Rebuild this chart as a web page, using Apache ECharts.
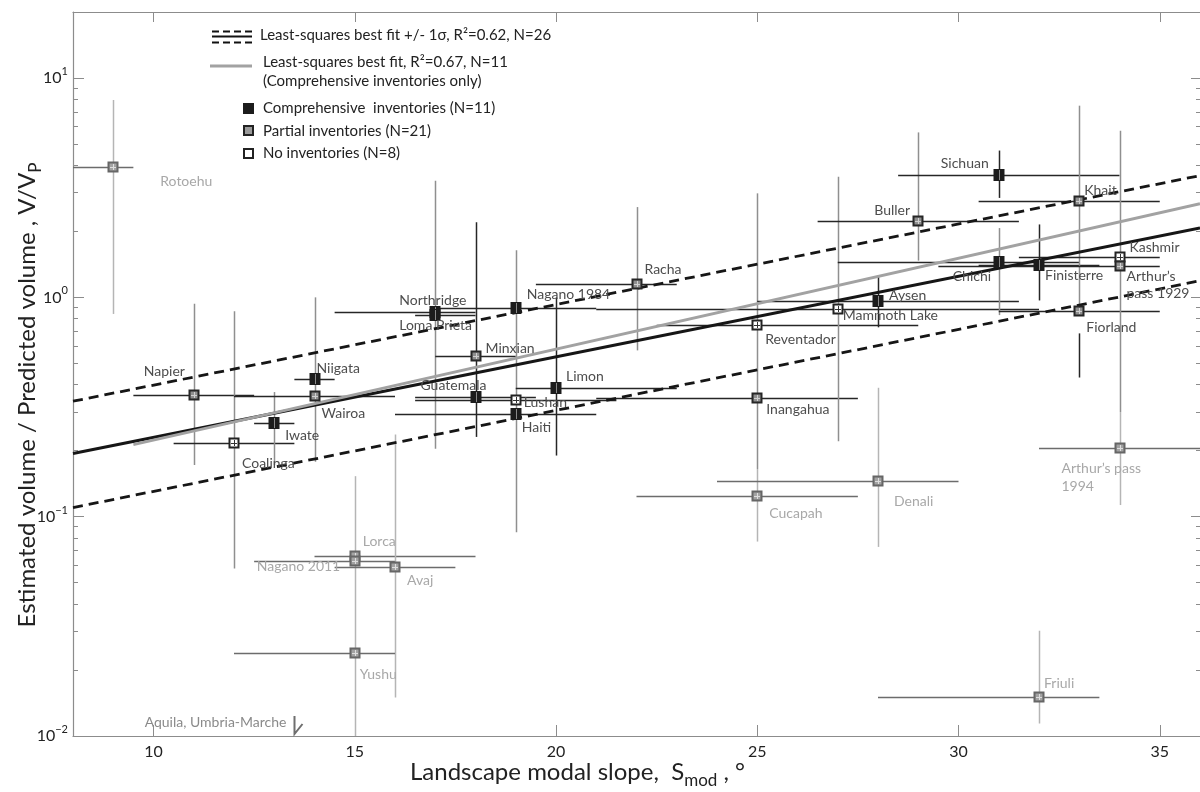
<!DOCTYPE html>
<html>
<head>
<meta charset="utf-8">
<script src="https://cdn.jsdelivr.net/npm/echarts@6/dist/echarts.min.js"></script>
<style>
html, body { margin: 0; padding: 0; background: #fff; }
#chart { width: 1200px; height: 792px; }
</style>
</head>
<body>
<div id="chart"></div>
<script>
// Earthquake-triggered landslide volume ratio versus landscape modal slope

// ---- data -------------------------------------------------------------
const names = ['Rotoehu', 'Napier', 'Coalinga', 'Iwate', 'Niigata', 'Wairoa', 'Northridge', 'Loma Prieta',
  'Guatemala', 'Minxian', 'Nagano 1984', 'Lushan', 'Haiti', 'Limon', 'Racha', 'Reventador', 'Inangahua',
  'Mammoth Lake', 'Aysen', 'Buller', 'Sichuan', 'Chichi', 'Finisterre', 'Khait', 'Fiorland', 'Kashmir',
  'Arthur\u2019s pass 1929', 'Lorca', 'Nagano 2011', 'Avaj', 'Yushu', 'Cucapah', 'Denali', 'Friuli',
  'Arthur\u2019s pass 1994'];
// landscape modal slope (degrees) and its range
const slope     = [9, 11, 12, 13, 14, 14, 17, 17, 18, 18, 19, 19, 19, 20, 22, 25, 25, 27, 28, 29, 31, 31, 32, 33, 33, 34, 34, 15, 15, 16, 15, 25, 28, 32, 34];
const slopeLow  = [7.5, 9.5, 10.5, 12.5, 13.5, 12, 14.5, 16.5, 16.5, 17, 17, 16.5, 16, 19, 19.5, 22.5, 21, 21, 25, 26.5, 28.5, 27, 30.5, 30.5, 31, 31.5, 29.5, 14, 12.5, 14.5, 12, 22, 24, 28, 32];
const slopeHigh = [9.5, 12.5, 13.5, 13.5, 14.5, 16, 18, 18, 19.5, 19, 21, 21.5, 21, 23, 23, 29, 27.5, 32, 31.5, 31.5, 34, 33, 33.5, 35, 35, 35, 35, 18, 16, 17.5, 16, 27.5, 30, 33.5, 36];
// estimated / predicted volume, V/Vp, and its range (null: no vertical bar)
const ratio     = [3.95, 0.359, 0.217, 0.268, 0.426, 0.355, 0.86, 0.83, 0.351, 0.54, 0.897, 0.342, 0.293, 0.387, 1.145, 0.745, 0.348, 0.887, 0.958, 2.22, 3.63, 1.446, 1.41, 2.74, 0.87, 1.52, 1.39, 0.066, 0.063, 0.0587, 0.0238, 0.124, 0.145, 0.0151, 0.206];
const ratioLow  = [0.84, 0.172, 0.058, 0.172, null, 0.178, null, 0.204, 0.231, null, null, 0.085, null, 0.19, 0.573, 0.35, 0.165, 0.221, 0.73, 1.47, 2.84, 0.83, 0.968, 0.87, 0.431, null, 0.30, 0.036, null, 0.015, 0.01, 0.077, 0.0728, 0.0114, 0.113];
const ratioHigh = [7.94, 0.935, 0.865, 0.37, null, 1.0, null, 3.4, 2.2, null, null, 1.64, null, 1.0, 2.58, 2.98, 0.35, 3.55, 1.26, 5.65, 4.67, 2.07, 2.15, 7.48, 0.685, null, 5.75, 0.153, null, 0.237, 0.036, 0.165, 0.387, 0.0302, 0.30];
// inventory type and whether the event enters the N=26 fit
const inventory = ['partial', 'partial', 'none', 'comprehensive', 'comprehensive', 'partial', 'comprehensive', 'comprehensive',
  'comprehensive', 'partial', 'comprehensive', 'none', 'comprehensive', 'comprehensive', 'partial', 'none', 'partial',
  'none', 'comprehensive', 'partial', 'comprehensive', 'comprehensive', 'comprehensive', 'partial', 'partial', 'none',
  'partial', 'partial', 'partial', 'partial', 'partial', 'partial', 'partial', 'partial', 'partial'];
const inFit = [false, true, true, true, true, true, true, true, true, true, true, true, true, true, true, true, true,
  true, true, true, true, true, true, true, true, true, true, false, false, false, false, false, false, false, false];

// events below the plotted range
const belowRangeNames = ['Aquila, Umbria-Marche'];
const belowRangeSlope = [13.5];

// least-squares fits (end points)
const fitAllX   = [8, 36];
const fitAllY   = [0.194, 2.07];
const fitPlusY  = [0.336, 3.59];
const fitMinusY = [0.110, 1.19];
const fitCompX  = [9.5, 36];
const fitCompY  = [0.213, 2.67];

// axis ticks
const xTicks = [10, 15, 20, 25, 30, 35];
const yMajorTicks = [0.01, 0.1, 1, 10];
const yMinorTicks = [0.02, 0.03, 0.04, 0.05, 0.06, 0.07, 0.08, 0.09,
  0.2, 0.3, 0.4, 0.5, 0.6, 0.7, 0.8, 0.9,
  2, 3, 4, 5, 6, 7, 8, 9];

// ---- styling / layout -------------------------------------------------
const FONT = 'Lato';
const darkVBars = new Set(['Guatemala', 'Limon', 'Aysen', 'Sichuan', 'Finisterre', 'Fiorland']);
const labelText = {
  'Arthur\u2019s pass 1929': 'Arthur\u2019s\npass 1929',
  'Arthur\u2019s pass 1994': 'Arthur\u2019s pass\n1994'
};
const labelOffset = {
  'Rotoehu': [47, 15], 'Napier': [-50, -23], 'Coalinga': [8, 21], 'Iwate': [11, 13], 'Niigata': [2, -10],
  'Wairoa': [7, 17], 'Northridge': [-36, -11], 'Loma Prieta': [-36, 10], 'Guatemala': [-55, -12],
  'Minxian': [10, -8], 'Nagano 1984': [11, -13], 'Lushan': [8, 3], 'Haiti': [6, 13], 'Limon': [10, -11],
  'Racha': [8, -15], 'Reventador': [8, 14], 'Inangahua': [9, 12], 'Mammoth Lake': [5, 7], 'Aysen': [11, -6],
  'Buller': [-44, -11], 'Sichuan': [-58, -11], 'Chichi': [-46, 14], 'Finisterre': [6, 11], 'Khait': [5, -11],
  'Fiorland': [7, 17], 'Kashmir': [10, -10], 'Arthur\u2019s pass 1929': [7, 19], 'Lorca': [8, -15],
  'Nagano 2011': [-98, 6], 'Avaj': [12, 13], 'Yushu': [5, 21], 'Cucapah': [12, 17], 'Denali': [16, 20],
  'Friuli': [5, -13], 'Arthur\u2019s pass 1994': [-58, 29.5]
};

const pointData = names.map((n, i) => [slope[i], ratio[i], i]);

function renderBars(params, api) {
  const i = api.value(2);
  const c = api.coord([slope[i], ratio[i]]);
  const faded = !inFit[i];
  const hColor = faded ? '#6c6c6c' : '#262626';
  const vColor = darkVBars.has(names[i]) ? '#262626' : (faded ? '#b5b5b5' : '#8f8f8f');
  const children = [];
  const a = api.coord([slopeLow[i], ratio[i]]);
  const b = api.coord([slopeHigh[i], ratio[i]]);
  const yh = Math.round(c[1]) + 0.5;
  children.push({ type: 'line', shape: { x1: a[0], y1: yh, x2: b[0], y2: yh },
    style: { stroke: hColor, lineWidth: 1.5 } });
  if (ratioLow[i] != null) {
    const lo = api.coord([slope[i], ratioLow[i]]);
    const hi = api.coord([slope[i], ratioHigh[i]]);
    const xv = Math.round(c[0]) + 0.5;
    children.push({ type: 'line', shape: { x1: xv, y1: lo[1], x2: xv, y2: hi[1] },
      style: { stroke: vColor, lineWidth: 1.5 } });
  }
  return { type: 'group', children };
}

function renderMarks(params, api) {
  const i = api.value(2);
  const c = api.coord([slope[i], ratio[i]]);
  const faded = !inFit[i];
  const kind = inventory[i];
  const cx = Math.round(c[0]), cy = Math.round(c[1]);
  const children = [];
  if (kind === 'comprehensive') {
    const w = 11, h = 12;
    children.push({ type: 'rect', shape: { x: cx - w / 2, y: cy - h / 2, width: w, height: h },
      style: { fill: '#1c1c1c' } });
    children.push({ type: 'line', shape: { x1: cx + 0.5, y1: cy - h / 2 + 1, x2: cx + 0.5, y2: cy + h / 2 - 1 },
      style: { stroke: '#8a8a8a', lineWidth: 1 } });
  } else {
    const s = 11;
    let fill, stroke, cross;
    if (kind === 'none') { fill = '#ffffff'; stroke = '#222'; cross = '#333'; }
    else if (faded) { fill = '#a3a3a3'; stroke = '#666'; cross = '#dedede'; }
    else { fill = '#8f8f8f'; stroke = '#262626'; cross = '#d0d0d0'; }
    children.push({ type: 'rect', shape: { x: cx - s / 2 + 1, y: cy - s / 2 + 1, width: s - 2, height: s - 2 },
      style: { fill: fill, stroke: stroke, lineWidth: 2 } });
    children.push({ type: 'line', shape: { x1: cx - 3, y1: cy + 0.5, x2: cx + 3, y2: cy + 0.5 },
      style: { stroke: cross, lineWidth: 1 } });
    children.push({ type: 'line', shape: { x1: cx + 0.5, y1: cy - 3, x2: cx + 0.5, y2: cy + 3 },
      style: { stroke: cross, lineWidth: 1 } });
  }
  const off = labelOffset[names[i]] || [8, -10];
  children.push({ type: 'text', x: c[0] + off[0], y: c[1] + off[1],
    style: { text: labelText[names[i]] || names[i], fill: faded ? '#a8a8a8' : '#4d4d4d',
      fontFamily: FONT, fontSize: 14, lineHeight: 17.5, align: 'left', verticalAlign: 'middle' } });
  return { type: 'group', children };
}

function renderBelow(params, api) {
  const i = api.value(1);
  const p = api.coord([belowRangeSlope[i], 0.01]);
  const x = Math.round(p[0]) + 0.5, y = p[1];
  return { type: 'group', children: [
    { type: 'polyline', shape: { points: [[x, y - 20], [x, y - 2], [x + 8, y - 12]] },
      style: { stroke: '#6f6f6f', lineWidth: 2, fill: null } },
    { type: 'text', x: x - 8, y: y - 14,
      style: { text: belowRangeNames[i], fill: '#8a8a8a', fontFamily: FONT, fontSize: 14,
        align: 'right', verticalAlign: 'middle' } }
  ] };
}

const supMap = { '0.01': '\u22122', '0.1': '\u22121', '1': '0', '10': '1' };
const axisGrey = '#8c8c8c';

function logAxis(position, tickVals, tickLen, labels) {
  return {
    type: 'log', logBase: 10, min: 0.01, max: 20, position: position,
    axisLine: { show: labels, lineStyle: { color: axisGrey, width: 1.2 } },
    axisTick: { show: true, inside: true, length: tickLen, customValues: tickVals,
      lineStyle: { color: axisGrey, width: 1 } },
    axisLabel: labels ? {
      show: true, customValues: yMajorTicks, margin: 5,
      formatter: v => '{b|10}{s|' + supMap[String(+v.toPrecision(3))] + '}',
      rich: {
        b: { fontFamily: FONT, fontSize: 16, color: '#222', lineHeight: 24, verticalAlign: 'middle' },
        s: { fontFamily: FONT, fontSize: 11, color: '#222', lineHeight: 24, verticalAlign: 'top' }
      }
    } : { show: false },
    splitLine: { show: false }, minorTick: { show: false }
  };
}

const legendFont = { fontFamily: FONT, fontSize: 15, fill: '#222', verticalAlign: 'middle' };

const chart = echarts.init(document.getElementById('chart'), null, { renderer: 'canvas' });
chart.setOption({
  animation: false,
  backgroundColor: '#ffffff',
  grid: { left: 73, right: 0, top: 12, bottom: 56 },
  xAxis: [
    { type: 'value', min: 8, max: 36, position: 'bottom',
      axisLine: { show: true, lineStyle: { color: axisGrey, width: 1.2 } },
      axisTick: { show: true, inside: true, length: 11, customValues: xTicks, lineStyle: { color: axisGrey } },
      axisLabel: { show: true, customValues: xTicks, margin: 8, fontFamily: FONT, fontSize: 16, color: '#222' },
      splitLine: { show: false } },
    { type: 'value', min: 8, max: 36, position: 'top',
      axisLine: { show: true, lineStyle: { color: axisGrey, width: 1.2 } },
      axisTick: { show: true, inside: true, length: 10, customValues: xTicks, lineStyle: { color: axisGrey } },
      axisLabel: { show: false }, splitLine: { show: false } }
  ],
  yAxis: [
    logAxis('left', yMajorTicks, 11, true),
    logAxis('left', yMinorTicks, 5, false),
    logAxis('right', yMajorTicks, 9, false),
    logAxis('right', yMinorTicks, 4, false)
  ],
  series: [
    { type: 'custom', name: 'ranges', renderItem: renderBars, data: pointData, clip: true, z: 1,
      encode: { x: 0, y: 1 }, silent: true },
    { type: 'line', name: 'fit', data: fitAllX.map((x, k) => [x, fitAllY[k]]), symbol: 'none', z: 2,
      lineStyle: { color: '#161616', width: 3 }, silent: true },
    { type: 'line', name: 'fit +1 sigma', data: fitAllX.map((x, k) => [x, fitPlusY[k]]), symbol: 'none', z: 2,
      lineStyle: { color: '#161616', width: 2.8, type: [10, 6] }, silent: true },
    { type: 'line', name: 'fit -1 sigma', data: fitAllX.map((x, k) => [x, fitMinusY[k]]), symbol: 'none', z: 2,
      lineStyle: { color: '#161616', width: 2.8, type: [10, 6] }, silent: true },
    { type: 'line', name: 'fit comprehensive', data: fitCompX.map((x, k) => [x, fitCompY[k]]), symbol: 'none', z: 2,
      lineStyle: { color: '#a2a2a2', width: 3 }, silent: true },
    { type: 'custom', name: 'events', renderItem: renderMarks, data: pointData, clip: true, z: 3,
      encode: { x: 0, y: 1 }, silent: true },
    { type: 'custom', name: 'below range', renderItem: renderBelow, z: 3, silent: true,
      data: belowRangeSlope.map((s, i) => [s, i]), encode: { x: 0 } }
  ],
  graphic: [
    // legend
    { type: 'line', shape: { x1: 212, y1: 31.5, x2: 252, y2: 31.5 }, style: { stroke: '#111', lineWidth: 2.2, lineDash: [7, 4] } },
    { type: 'line', shape: { x1: 212, y1: 36.5, x2: 252, y2: 36.5 }, style: { stroke: '#111', lineWidth: 2 } },
    { type: 'line', shape: { x1: 212, y1: 42.5, x2: 252, y2: 42.5 }, style: { stroke: '#111', lineWidth: 2.2, lineDash: [7, 4] } },
    { type: 'text', x: 260, y: 35, style: Object.assign({ text: 'Least-squares best fit +/- 1\u03c3, R\u00b2=0.62, N=26' }, legendFont) },
    { type: 'line', shape: { x1: 210, y1: 66, x2: 252, y2: 66 }, style: { stroke: '#a2a2a2', lineWidth: 3 } },
    { type: 'text', x: 263, y: 62.5, style: Object.assign({ text: 'Least-squares best fit, R\u00b2=0.67, N=11' }, legendFont) },
    { type: 'text', x: 263, y: 81.5, style: Object.assign({ text: '(Comprehensive inventories only)' }, legendFont) },
    { type: 'rect', shape: { x: 243, y: 103, width: 11, height: 11 }, style: { fill: '#1c1c1c' } },
    { type: 'text', x: 263, y: 108.5, style: Object.assign({ text: 'Comprehensive  inventories (N=11)' }, legendFont) },
    { type: 'rect', shape: { x: 244, y: 126, width: 9, height: 9 }, style: { fill: '#9a9a9a', stroke: '#222', lineWidth: 2 } },
    { type: 'text', x: 263, y: 131, style: Object.assign({ text: 'Partial inventories (N=21)' }, legendFont) },
    { type: 'rect', shape: { x: 244, y: 149, width: 9, height: 9 }, style: { fill: '#ffffff', stroke: '#222', lineWidth: 2 } },
    { type: 'text', x: 263, y: 153.5, style: Object.assign({ text: 'No inventories (N=8)' }, legendFont) },
    // axis titles
    { type: 'text', x: 410, y: 772, style: {
      text: '{a|Landscape modal slope,  S}{s|mod}{a| , \u00b0}',
      verticalAlign: 'middle', align: 'left',
      rich: {
        a: { fontFamily: FONT, fontSize: 24, fill: '#222', lineHeight: 34, verticalAlign: 'middle' },
        s: { fontFamily: FONT, fontSize: 17, fill: '#222', lineHeight: 34, verticalAlign: 'bottom' }
      } } },
    { type: 'text', x: 27, y: 395, rotation: Math.PI / 2, style: {
      text: '{a|Estimated volume / Predicted volume , V/V}{s|P}',
      align: 'center', verticalAlign: 'middle',
      rich: {
        a: { fontFamily: FONT, fontSize: 24, fill: '#222', lineHeight: 34, verticalAlign: 'middle' },
        s: { fontFamily: FONT, fontSize: 17, fill: '#222', lineHeight: 34, verticalAlign: 'bottom' }
      } } }
  ]
});
</script>
</body>
</html>
